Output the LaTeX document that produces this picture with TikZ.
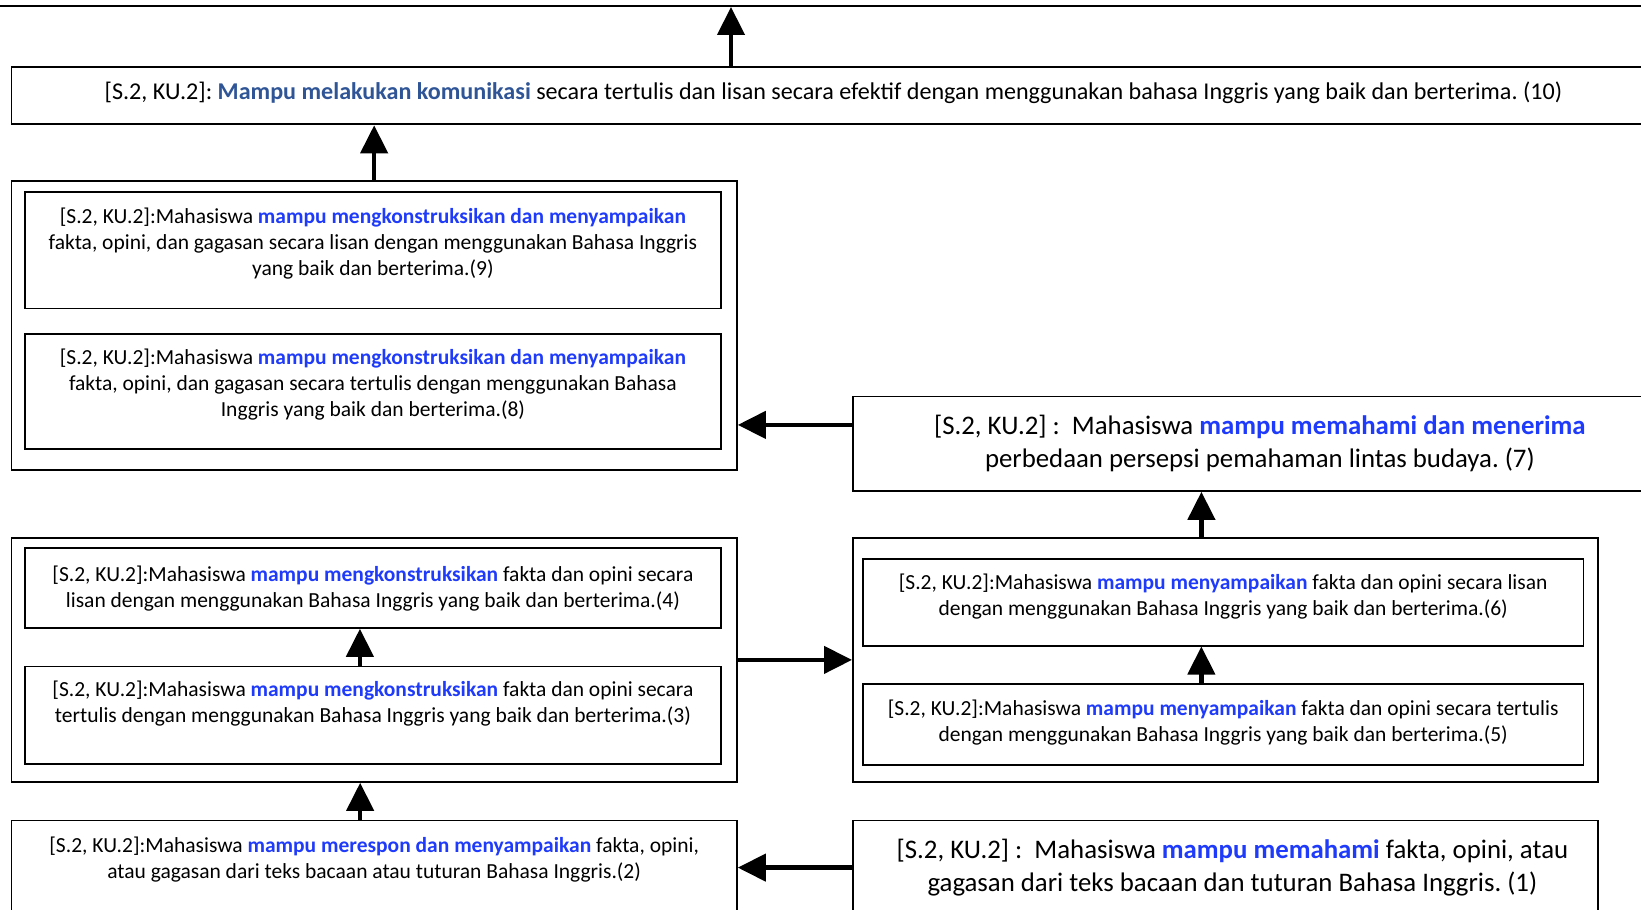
\documentclass[tikz,border=0pt]{standalone}
\usepackage{fontspec}
\setmainfont{Carlito}
\usetikzlibrary{arrows.meta}
\definecolor{keyblue}{RGB}{30,58,250}
\definecolor{headblue}{RGB}{47,85,151}
\newcommand{\kw}[1]{\textcolor{keyblue}{\textbf{#1}}}
\newcommand{\lift}[1]{\rule[-#1]{0pt}{#1}}
\frenchspacing
\tikzset{
  >={Triangle[width=13.5pt,length=14pt]},
  every node/.style={inner sep=0pt, align=center, anchor=north west},
  box/.style 2 args={draw, line width=0.9pt, minimum width=#1*0.5pt, minimum height=#2*0.5pt},
  small/.style={font=\fontsize{10.75}{13}\selectfont},
  head/.style={font=\fontsize{12.05}{14.5}\selectfont},
  large/.style={font=\fontsize{13.4}{16.5}\selectfont},
  flow/.style={->, line width=2.2pt}
}
\begin{document}
\begin{tikzpicture}[x=0.5pt,y=-0.5pt]
  \useasboundingbox (0,0) rectangle (1641,909);
  \clip (0,0) rectangle (1641,909);

  \node[box={1700}{120}, anchor=south west] (topbox) at (-20,7) {};
  \node[box={1644}{57.5}, head] (b10) at (10.5,66)
    {[S.2, KU.2]: \textcolor{headblue}{\textbf{Mampu melakukan komunikasi}} secara tertulis dan lisan secara efektif dengan menggunakan bahasa Inggris yang baik dan berterima. (10)\lift{5pt}};

  \node[box={725.5}{289}] (grpA) at (10.5,180) {};
  \node[box={696}{116}, small] (b9) at (24,191.5)
    {[S.2, KU.2]:Mahasiswa \kw{mampu mengkonstruksikan dan menyampaikan}\\
     fakta, opini, dan gagasan secara lisan dengan menggunakan Bahasa Inggris\\
     yang baik dan berterima.(9)\lift{8.5pt}};
  \node[box={696}{115}, small] (b8) at (24,333)
    {[S.2, KU.2]:Mahasiswa \kw{mampu mengkonstruksikan dan menyampaikan}\\
     fakta, opini, dan gagasan secara tertulis dengan menggunakan Bahasa\\
     Inggris yang baik dan berterima.(8)\lift{9pt}};

  \node[box={814}{94.4}, large] (b7) at (852,395.6)
    {[S.2, KU.2] :\ \ Mahasiswa \kw{mampu memahami dan menerima}\\
     perbedaan persepsi pemahaman lintas budaya. (7)};

  \node[box={725.5}{244}] (grpB) at (10.5,537) {};
  \node[box={696}{79.6}, small] (b4) at (24,547.4)
    {[S.2, KU.2]:Mahasiswa \kw{mampu mengkonstruksikan} fakta dan opini secara\\
     lisan dengan menggunakan Bahasa Inggris yang baik dan berterima.(4)};
  \node[box={696}{97.4}, small] (b3) at (24,665.6)
    {[S.2, KU.2]:Mahasiswa \kw{mampu mengkonstruksikan} fakta dan opini secara\\
     tertulis dengan menggunakan Bahasa Inggris yang baik dan berterima.(3)\lift{13.5pt}};

  \node[box={745}{244}] (grpC) at (852,537) {};
  \node[box={720.5}{86.7}, small] (b6) at (862,558)
    {[S.2, KU.2]:Mahasiswa \kw{mampu menyampaikan} fakta dan opini secara lisan\\
     dengan menggunakan Bahasa Inggris yang baik dan berterima.(6)\lift{7.5pt}};
  \node[box={720.5}{80.6}, small] (b5) at (862,683.4)
    {[S.2, KU.2]:Mahasiswa \kw{mampu menyampaikan} fakta dan opini secara tertulis\\
     dengan menggunakan Bahasa Inggris yang baik dan berterima.(5)\lift{3.5pt}};

  \node[box={725.5}{100}, small] (b2) at (10.5,819.5)
    {[S.2, KU.2]:Mahasiswa \kw{mampu merespon dan menyampaikan} fakta, opini,\\
     atau gagasan dari teks bacaan atau tuturan Bahasa Inggris.(2)\lift{13pt}};
  \node[box={745}{94.4}, large] (b1) at (852,819.5)
    {\hspace*{7pt}[S.2, KU.2] :\ \ Mahasiswa \kw{mampu memahami} fakta, opini, atau\\
     \hspace*{7pt}gagasan dari teks bacaan dan tuturan Bahasa Inggris. (1)};

  \coordinate (b10up) at ([xshift=360.25pt]b10.north west);
  \coordinate (b7out) at ([yshift=9.4pt]b7.west);
  \coordinate (grpCup) at ([xshift=-12pt]grpC.north);
  \coordinate (b3up) at ([xshift=-6.5pt]b3.north);
  \coordinate (b5up) at ([xshift=-10.9pt]b5.north);
  \coordinate (b2up) at ([xshift=-7pt]b2.north);

  \draw[flow] (b10up) -- (b10up |- topbox.south);
  \draw[flow] (grpA.north) -- (grpA.north |- b10.south);
  \draw[flow] (b7out) -- (b7out -| grpA.east);
  \draw[flow] (grpCup) -- (grpCup |- b7.south);
  \draw[flow] (b3up) -- (b3up |- b4.south);
  \draw[flow] (b5up) -- (b5up |- b6.south);
  \draw[flow] (grpB.east) -- (grpC.west);
  \draw[flow] (b2up) -- (b2up |- grpB.south);
  \draw[flow] (b1.west) -- (b1.west -| b2.east);
\end{tikzpicture}
\end{document}
